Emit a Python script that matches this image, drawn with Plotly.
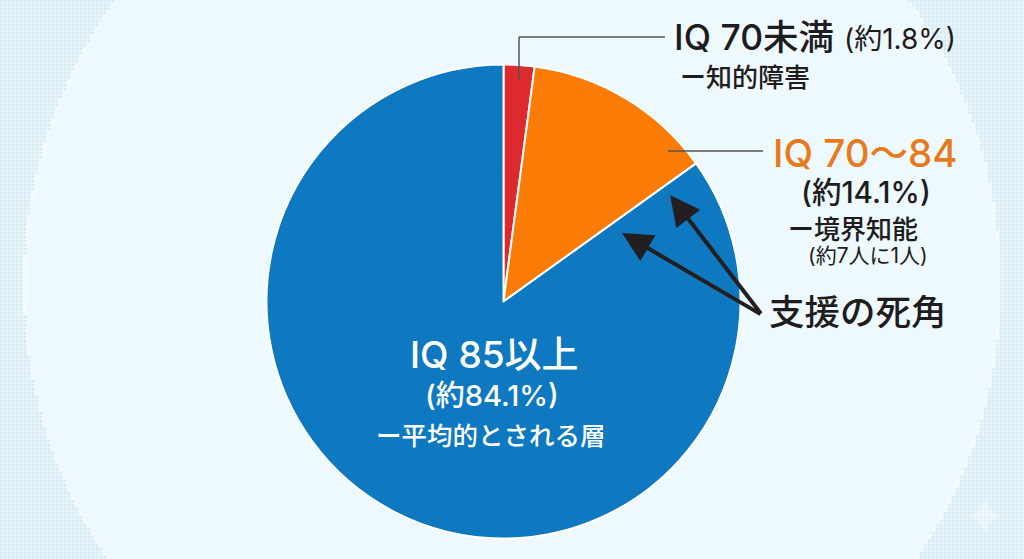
"""
IQ distribution pie chart (Japanese labels)
"""

import numpy as np
import plotly.graph_objects as go

WIDTH = 1024
HEIGHT = 559

# slice sizes as drawn in the picture, clockwise from 12 o'clock
segments = ['IQ 70未満', 'IQ 70〜84', 'IQ 85以上']
shares = [2.1, 13.0, 84.9]
colors = ['#DC2A2E', '#FA7B05', '#0E79C0']

# label texts
low_title = 'IQ 70未満'
low_pct = '(約1.8%)'
low_note = 'ー知的障害'
mid_title = 'IQ 70〜84'
mid_pct = '(約14.1%)'
mid_note = 'ー境界知能'
mid_ratio = '(約7人に1人)'
high_title = 'IQ 85以上'
high_pct = '(約84.1%)'
high_note = 'ー平均的とされる層'
callout = '支援の死角'

FONT = 'Inter, Noto Sans CJK JP'
INK = '#1E1C1C'
ORANGE_TEXT = '#E9791F'

# pie placement in pixels
cx, cy, r = 503.5, 301.5, 237

# background dots, only outside the big pale circle
bg_cx, bg_cy, bg_r = 512, 285, 488
gx, gy = np.meshgrid(np.arange(1, WIDTH, 4), np.arange(1, HEIGHT, 4))
outside = (gx - bg_cx) ** 2 + (gy - bg_cy) ** 2 > bg_r ** 2

fig = go.Figure()

fig.add_trace(go.Scatter(
    x=gx[outside],
    y=gy[outside],
    mode='markers',
    marker=dict(color='#D6EBF4', size=2.6, symbol='square'),
    hoverinfo='skip',
    showlegend=False
))

# small pale sparkle in the bottom right corner
fig.add_trace(go.Scatter(
    x=[985],
    y=[516],
    mode='markers',
    marker=dict(color='rgba(255,255,255,0.35)', size=24, symbol='star-diamond'),
    hoverinfo='skip',
    showlegend=False
))

fig.add_trace(go.Pie(
    labels=segments,
    values=shares,
    sort=False,
    direction='clockwise',
    rotation=0,
    textinfo='none',
    hoverinfo='label',
    showlegend=False,
    marker=dict(colors=colors, line=dict(color='white', width=2)),
    domain=dict(
        x=[(cx - r) / WIDTH, (cx + r) / WIDTH],
        y=[1 - (cy + r) / HEIGHT, 1 - (cy - r) / HEIGHT]
    )
))


def add_text(x, y, text, size, color=INK, anchor='left', weight=500):
    fig.add_annotation(
        x=x, y=y, text=text, showarrow=False, xanchor=anchor, yanchor='middle',
        font=dict(family=FONT, size=size, color=color, weight=weight)
    )


add_text(672, 37, low_title, 35.5)
add_text(842, 39, low_pct, 28, weight=400)
add_text(678, 77, low_note, 26)
add_text(865, 153, mid_title, 38.5, color=ORANGE_TEXT, anchor='center')
add_text(866, 192, mid_pct, 29.5, anchor='center')
add_text(853, 229, mid_note, 26, anchor='center')
add_text(868, 255, mid_ratio, 21, weight=400, anchor='center')
add_text(858, 312, callout, 35.5, anchor='center')
add_text(494, 354, high_title, 37, color='white', anchor='center')
add_text(492, 395, high_pct, 29, color='white', anchor='center')
add_text(491, 435, high_note, 25.5, color='white', anchor='center')

# the two arrows from the callout into the blue slice
for tip_x, tip_y in [(670, 195), (622, 233)]:
    fig.add_annotation(
        x=tip_x, y=tip_y, ax=762, ay=315,
        xref='x', yref='y', axref='x', ayref='y',
        text='', showarrow=True,
        arrowhead=2, arrowsize=1.5, arrowwidth=4, arrowcolor='#231F20'
    )

leader = dict(color='#555555', width=1.5)
fig.update_layout(
    width=WIDTH,
    height=HEIGHT,
    margin=dict(l=0, r=0, t=0, b=0),
    paper_bgcolor='#E9F6FB',
    plot_bgcolor='rgba(0,0,0,0)',
    xaxis=dict(range=[0, WIDTH], visible=False, fixedrange=True),
    yaxis=dict(range=[HEIGHT, 0], visible=False, fixedrange=True),
    shapes=[
        dict(type='circle', layer='below', x0=bg_cx - bg_r, x1=bg_cx + bg_r,
             y0=bg_cy - bg_r, y1=bg_cy + bg_r,
             fillcolor='#EEF9FD', line=dict(color='#F4FBFE', width=3)),
        dict(type='line', layer='above', x0=519, x1=665, y0=37, y1=37, line=leader),
        dict(type='line', layer='above', x0=519, x1=519, y0=37, y1=80, line=leader),
        dict(type='line', layer='above', x0=668, x1=763, y0=151, y1=151, line=leader),
    ]
)

fig.write_html("out.html", config=dict(displayModeBar=False),
               post_script="document.body.style.margin='0';")
